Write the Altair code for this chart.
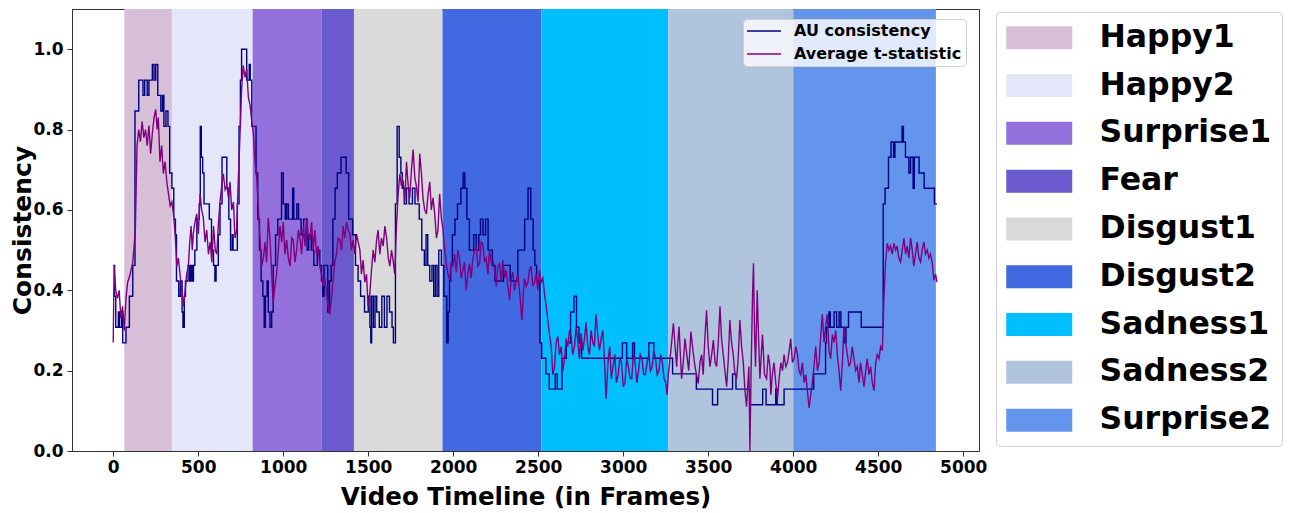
import altair as alt
import pandas as pd

# ---- emotion segments (frames) ----
emotions = ["Happy1", "Happy2", "Surprise1", "Fear", "Disgust1",
            "Disgust2", "Sadness1", "Sadness2", "Surprise2"]
seg_start = [65, 345, 820, 1227, 1416, 1937, 2518, 3265, 4000]
seg_end = [345, 820, 1227, 1416, 1937, 2518, 3265, 4000, 4839]
seg_colors = ["#D8BFD8", "#E6E6FA", "#9370DB", "#6A5ACD", "#D9D9D9",
              "#4169E1", "#00BFFF", "#B0C4DE", "#6495ED"]

# ---- AU consistency (frame, value), held until next change ----
au_points = [
    (0, 0.462), (8, 0.385), (15, 0.308), (30, 0.346), (38, 0.308), (50, 0.346), (56, 0.269),
    (75, 0.308), (95, 0.385), (115, 0.462), (128, 0.846), (150, 0.923), (175, 0.885),
    (185, 0.923), (200, 0.885), (210, 0.923), (230, 0.962), (240, 0.923), (250, 0.962),
    (262, 0.885), (280, 0.846), (290, 0.885), (298, 0.808), (310, 0.846), (322, 0.808),
    (332, 0.692), (345, 0.654), (356, 0.577), (366, 0.538), (372, 0.423), (385, 0.385),
    (395, 0.423), (405, 0.346), (410, 0.308), (418, 0.385), (425, 0.423), (440, 0.462),
    (450, 0.423), (458, 0.462), (466, 0.423), (472, 0.462), (480, 0.500), (492, 0.577),
    (506, 0.615), (512, 0.808), (518, 0.731), (526, 0.692), (534, 0.615), (565, 0.577),
    (578, 0.500), (590, 0.462), (598, 0.423), (605, 0.462), (618, 0.538), (628, 0.615),
    (640, 0.731), (668, 0.654), (680, 0.577), (690, 0.500), (700, 0.538), (705, 0.500),
    (730, 0.615), (740, 0.808), (748, 0.923), (755, 1.0), (785, 0.923), (800, 0.962),
    (806, 0.923), (815, 0.808), (840, 0.692), (850, 0.577), (860, 0.500), (870, 0.423),
    (880, 0.385), (888, 0.308), (895, 0.385), (905, 0.423), (912, 0.346), (922, 0.308),
    (932, 0.346), (941, 0.462), (955, 0.538), (968, 0.577), (990, 0.692), (1000, 0.615),
    (1012, 0.577), (1020, 0.615), (1030, 0.577), (1055, 0.654), (1062, 0.577), (1080, 0.615),
    (1090, 0.577), (1105, 0.538), (1120, 0.577), (1140, 0.500), (1150, 0.538), (1165, 0.500),
    (1180, 0.462), (1200, 0.500), (1215, 0.462), (1225, 0.423), (1232, 0.385), (1240, 0.462),
    (1262, 0.346), (1272, 0.423), (1282, 0.462), (1292, 0.577), (1305, 0.654), (1318, 0.692),
    (1340, 0.731), (1370, 0.692), (1385, 0.577), (1408, 0.538), (1425, 0.462), (1440, 0.423),
    (1455, 0.385), (1478, 0.346), (1500, 0.385), (1510, 0.308), (1515, 0.269), (1520, 0.385),
    (1530, 0.308), (1540, 0.385), (1550, 0.346), (1565, 0.308), (1580, 0.385), (1595, 0.308),
    (1610, 0.385), (1625, 0.346), (1640, 0.308), (1648, 0.269), (1660, 0.615), (1670, 0.808),
    (1682, 0.731), (1692, 0.692), (1700, 0.654), (1712, 0.615), (1725, 0.654), (1740, 0.615),
    (1760, 0.654), (1775, 0.615), (1800, 0.577), (1815, 0.500), (1830, 0.462), (1840, 0.538),
    (1850, 0.462), (1862, 0.423), (1875, 0.462), (1885, 0.385), (1895, 0.462), (1905, 0.385),
    (1915, 0.500), (1930, 0.462), (1945, 0.385), (1962, 0.269), (1970, 0.346), (1978, 0.423),
    (1985, 0.462), (1995, 0.538), (2010, 0.577), (2025, 0.615), (2045, 0.654), (2058, 0.692),
    (2068, 0.654), (2080, 0.577), (2095, 0.500), (2120, 0.538), (2135, 0.500), (2150, 0.538),
    (2160, 0.577), (2175, 0.538), (2190, 0.577), (2205, 0.500), (2230, 0.462), (2245, 0.423),
    (2295, 0.462), (2335, 0.423), (2380, 0.500), (2420, 0.577), (2440, 0.654), (2456, 0.577),
    (2470, 0.500), (2480, 0.462), (2490, 0.423), (2510, 0.269), (2520, 0.231), (2545, 0.192),
    (2565, 0.154), (2600, 0.192), (2612, 0.154), (2640, 0.231), (2665, 0.269), (2690, 0.346),
    (2710, 0.385), (2725, 0.308), (2740, 0.269), (2755, 0.231), (2995, 0.269), (3020, 0.231),
    (3055, 0.269), (3066, 0.231), (3150, 0.269), (3180, 0.231), (3290, 0.192), (3430, 0.154),
    (3525, 0.115), (3555, 0.154), (3643, 0.192), (3663, 0.154), (3745, 0.115), (3820, 0.154),
    (3840, 0.115), (3897, 0.154), (3905, 0.115), (3946, 0.154), (4120, 0.192), (4190, 0.269),
    (4195, 0.308), (4210, 0.346), (4218, 0.308), (4240, 0.346), (4255, 0.308), (4270, 0.346),
    (4280, 0.308), (4300, 0.269), (4310, 0.308), (4325, 0.346), (4400, 0.308), (4480, 0.308),
    (4529, 0.615), (4540, 0.654), (4560, 0.731), (4575, 0.769), (4590, 0.731), (4598, 0.769),
    (4620, 0.769), (4640, 0.808), (4648, 0.769), (4660, 0.731), (4680, 0.692), (4690, 0.731),
    (4705, 0.654), (4712, 0.731), (4740, 0.692), (4770, 0.654), (4830, 0.615), (4846, 0.615),
]

# ---- Average t-statistic (frame, value) ----
tstat_points = [
    (0, 0.27), (5, 0.46), (15, 0.40), (25, 0.38), (35, 0.40), (45, 0.33), (55, 0.36), (65, 0.30),
    (75, 0.38), (85, 0.42), (100, 0.44), (115, 0.47), (130, 0.55), (140, 0.76), (150, 0.80),
    (160, 0.77), (170, 0.82), (180, 0.78), (190, 0.80), (200, 0.76), (210, 0.81), (220, 0.74),
    (230, 0.79), (240, 0.83), (250, 0.85), (258, 0.80), (265, 0.83), (275, 0.72), (285, 0.76),
    (295, 0.69), (305, 0.72), (315, 0.67), (325, 0.64), (335, 0.61), (345, 0.62), (354, 0.59),
    (364, 0.54), (374, 0.46), (383, 0.48), (393, 0.44), (403, 0.40), (413, 0.36), (423, 0.40),
    (432, 0.44), (442, 0.46), (450, 0.52), (458, 0.56), (465, 0.50), (471, 0.54), (481, 0.57),
    (491, 0.59), (501, 0.54), (511, 0.64), (520, 0.60), (530, 0.58), (540, 0.52), (550, 0.55),
    (560, 0.49), (570, 0.52), (580, 0.47), (590, 0.56), (600, 0.50), (609, 0.49), (618, 0.56),
    (628, 0.62), (638, 0.66), (648, 0.69), (658, 0.65), (668, 0.66), (678, 0.63), (687, 0.67),
    (697, 0.60), (707, 0.62), (716, 0.53), (726, 0.55), (736, 0.68), (746, 0.79), (755, 0.90),
    (765, 0.96), (775, 0.93), (785, 0.95), (795, 0.88), (805, 0.86), (815, 0.82), (824, 0.79),
    (834, 0.72), (844, 0.68), (854, 0.60), (863, 0.53), (873, 0.46), (883, 0.48), (893, 0.52),
    (902, 0.47), (912, 0.58), (922, 0.53), (932, 0.44), (941, 0.37), (951, 0.41), (961, 0.44),
    (971, 0.50), (981, 0.56), (991, 0.52), (1000, 0.57), (1010, 0.49), (1020, 0.525), (1030, 0.48),
    (1040, 0.46), (1050, 0.53), (1059, 0.525), (1069, 0.47), (1079, 0.50), (1089, 0.55), (1098, 0.53),
    (1108, 0.49), (1118, 0.56), (1128, 0.51), (1137, 0.58), (1147, 0.54), (1157, 0.525), (1167, 0.57),
    (1176, 0.50), (1186, 0.55), (1196, 0.49), (1205, 0.51), (1215, 0.46), (1225, 0.44), (1235, 0.41),
    (1245, 0.43), (1254, 0.39), (1264, 0.36), (1274, 0.34), (1284, 0.38), (1294, 0.43), (1303, 0.47),
    (1313, 0.49), (1323, 0.53), (1333, 0.525), (1343, 0.50), (1352, 0.56), (1362, 0.53), (1372, 0.57),
    (1382, 0.55), (1392, 0.54), (1401, 0.50), (1411, 0.525), (1421, 0.49), (1431, 0.54), (1441, 0.52),
    (1451, 0.50), (1460, 0.44), (1470, 0.475), (1480, 0.42), (1490, 0.44), (1499, 0.36), (1509, 0.39),
    (1519, 0.45), (1529, 0.50), (1539, 0.47), (1549, 0.525), (1558, 0.55), (1568, 0.49), (1578, 0.53),
    (1588, 0.51), (1598, 0.56), (1608, 0.53), (1618, 0.48), (1627, 0.46), (1637, 0.50), (1646, 0.475),
    (1656, 0.44), (1666, 0.56), (1676, 0.64), (1686, 0.69), (1695, 0.66), (1705, 0.674), (1715, 0.62),
    (1725, 0.72), (1735, 0.66), (1744, 0.63), (1754, 0.70), (1764, 0.75), (1774, 0.68), (1783, 0.66),
    (1793, 0.62), (1803, 0.74), (1813, 0.69), (1822, 0.63), (1832, 0.60), (1842, 0.59), (1852, 0.64),
    (1862, 0.67), (1871, 0.60), (1881, 0.63), (1891, 0.59), (1901, 0.53), (1910, 0.55), (1920, 0.64),
    (1930, 0.58), (1940, 0.55), (1950, 0.50), (1959, 0.466), (1969, 0.44), (1979, 0.425), (1988, 0.47),
    (1998, 0.46), (2008, 0.49), (2018, 0.445), (2027, 0.50), (2037, 0.48), (2047, 0.43), (2057, 0.45),
    (2066, 0.47), (2076, 0.40), (2086, 0.44), (2096, 0.466), (2105, 0.43), (2115, 0.475), (2125, 0.50),
    (2135, 0.508), (2145, 0.46), (2155, 0.466), (2164, 0.52), (2174, 0.516), (2184, 0.47), (2194, 0.48),
    (2204, 0.44), (2213, 0.50), (2223, 0.47), (2233, 0.475), (2243, 0.45), (2253, 0.41), (2262, 0.46),
    (2272, 0.466), (2282, 0.42), (2292, 0.475), (2302, 0.43), (2311, 0.45), (2321, 0.41), (2331, 0.376),
    (2341, 0.43), (2351, 0.445), (2360, 0.40), (2370, 0.42), (2380, 0.44), (2390, 0.40), (2397, 0.36),
    (2404, 0.326), (2412, 0.39), (2419, 0.43), (2429, 0.41), (2439, 0.42), (2448, 0.45), (2458, 0.46),
    (2468, 0.41), (2478, 0.42), (2488, 0.44), (2498, 0.40), (2507, 0.45), (2517, 0.42), (2527, 0.43),
    (2537, 0.39), (2547, 0.36), (2556, 0.326), (2566, 0.29), (2576, 0.26), (2586, 0.19), (2596, 0.21),
    (2605, 0.27), (2615, 0.285), (2625, 0.24), (2635, 0.26), (2644, 0.20), (2654, 0.226), (2664, 0.28),
    (2674, 0.26), (2684, 0.30), (2693, 0.285), (2703, 0.24), (2713, 0.26), (2723, 0.31), (2733, 0.27),
    (2742, 0.23), (2752, 0.293), (2762, 0.25), (2772, 0.28), (2781, 0.32), (2791, 0.26), (2801, 0.24),
    (2811, 0.30), (2821, 0.27), (2830, 0.26), (2840, 0.34), (2850, 0.29), (2860, 0.25), (2870, 0.28),
    (2880, 0.30), (2890, 0.22), (2899, 0.13), (2910, 0.22), (2920, 0.26), (2930, 0.18), (2940, 0.21),
    (2950, 0.24), (2960, 0.17), (2970, 0.19), (2980, 0.23), (2990, 0.22), (3000, 0.16), (3010, 0.17),
    (3020, 0.23), (3030, 0.21), (3040, 0.18), (3050, 0.18), (3060, 0.24), (3070, 0.22), (3080, 0.17),
    (3090, 0.20), (3100, 0.24), (3110, 0.23), (3120, 0.19), (3130, 0.19), (3140, 0.22), (3150, 0.24),
    (3160, 0.20), (3170, 0.21), (3180, 0.25), (3190, 0.23), (3200, 0.19), (3210, 0.20), (3220, 0.24),
    (3230, 0.22), (3240, 0.18), (3250, 0.17), (3258, 0.14), (3265, 0.19), (3280, 0.25), (3295, 0.318),
    (3305, 0.26), (3314, 0.21), (3321, 0.27), (3328, 0.31), (3336, 0.24), (3343, 0.18), (3353, 0.22),
    (3363, 0.28), (3373, 0.243), (3385, 0.20), (3398, 0.297), (3410, 0.25), (3422, 0.21), (3431, 0.19),
    (3441, 0.168), (3451, 0.22), (3461, 0.24), (3470, 0.19), (3480, 0.28), (3490, 0.35), (3500, 0.26),
    (3510, 0.21), (3520, 0.24), (3530, 0.276), (3540, 0.22), (3549, 0.21), (3559, 0.27), (3569, 0.36),
    (3578, 0.28), (3588, 0.24), (3598, 0.20), (3608, 0.16), (3618, 0.23), (3627, 0.326), (3637, 0.27),
    (3647, 0.24), (3657, 0.19), (3667, 0.18), (3676, 0.23), (3686, 0.326), (3696, 0.26), (3706, 0.22),
    (3716, 0.15), (3725, 0.11), (3732, 0.16), (3739, 0.21), (3745, 0.0), (3752, 0.20), (3760, 0.38),
    (3766, 0.467), (3772, 0.30), (3778, 0.21), (3788, 0.40), (3796, 0.28), (3804, 0.18), (3812, 0.24),
    (3819, 0.29), (3831, 0.19), (3843, 0.18), (3853, 0.24), (3863, 0.21), (3868, 0.14), (3877, 0.19),
    (3887, 0.22), (3897, 0.17), (3907, 0.13), (3917, 0.18), (3927, 0.22), (3937, 0.20), (3946, 0.24),
    (3956, 0.21), (3966, 0.22), (3976, 0.25), (3985, 0.28), (3995, 0.22), (4005, 0.23), (4015, 0.26),
    (4025, 0.24), (4034, 0.20), (4044, 0.19), (4054, 0.22), (4064, 0.17), (4074, 0.19), (4083, 0.15),
    (4093, 0.107), (4103, 0.14), (4112, 0.17), (4122, 0.21), (4132, 0.26), (4142, 0.20), (4152, 0.22),
    (4162, 0.29), (4171, 0.34), (4181, 0.27), (4190, 0.31), (4200, 0.34), (4210, 0.25), (4220, 0.23),
    (4230, 0.29), (4240, 0.27), (4250, 0.30), (4259, 0.24), (4269, 0.20), (4279, 0.15), (4289, 0.22),
    (4298, 0.31), (4308, 0.27), (4318, 0.24), (4328, 0.21), (4337, 0.22), (4347, 0.26), (4357, 0.23),
    (4367, 0.20), (4377, 0.21), (4387, 0.17), (4396, 0.22), (4406, 0.19), (4416, 0.16), (4426, 0.20),
    (4435, 0.23), (4445, 0.19), (4455, 0.21), (4465, 0.17), (4475, 0.15), (4485, 0.22), (4494, 0.24),
    (4504, 0.23), (4514, 0.26), (4524, 0.25), (4533, 0.377), (4543, 0.47), (4553, 0.517), (4563, 0.50),
    (4572, 0.51), (4582, 0.49), (4592, 0.517), (4602, 0.50), (4611, 0.51), (4621, 0.48), (4631, 0.47),
    (4641, 0.50), (4651, 0.53), (4661, 0.49), (4670, 0.51), (4680, 0.48), (4690, 0.53), (4700, 0.50),
    (4709, 0.46), (4719, 0.49), (4729, 0.52), (4739, 0.48), (4749, 0.47), (4758, 0.50), (4768, 0.52),
    (4778, 0.49), (4788, 0.50), (4798, 0.48), (4807, 0.49), (4817, 0.47), (4827, 0.425), (4837, 0.44),
    (4845, 0.42),
]

x_ticks = [0, 500, 1000, 1500, 2000, 2500, 3000, 3500, 4000, 4500, 5000]
y_ticks = [0.0, 0.2, 0.4, 0.6, 0.8, 1.0]
series_names = ["AU consistency", "Average t-statistic"]
series_colors = ["#000080", "#800080"]

FONT = "DejaVu Sans"

seg_df = pd.DataFrame({"emotion": emotions, "start": seg_start, "end": seg_end})
au_df = pd.DataFrame(au_points, columns=["frame", "value"])
au_df["series"] = series_names[0]
ts_df = pd.DataFrame(tstat_points, columns=["frame", "value"])
ts_df["series"] = series_names[1]

x_scale = alt.Scale(domain=[-242.5, 5092.5], nice=False, zero=False)
y_scale = alt.Scale(domain=[0, 1.1], nice=False)
x_axis = alt.Axis(title="Video Timeline (in Frames)", values=x_ticks, format="d",
                  labelPadding=3, titleY=46, titleBaseline="middle", titleFontSize=24.5,
                  labelFlush=False, labelOverlap=False)
y_axis = alt.Axis(title="Consistency", values=y_ticks, format=".1f",
                  labelPadding=4, titleX=-50, titleBaseline="middle", titleFontSize=25)

fill_legend = alt.Legend(
    title=None, orient="none", legendX=924, legendY=3, direction="vertical",
    symbolType="M-1.348,-1L4.39,-1L4.39,1L-1.348,1Z", symbolSize=529,
    symbolStrokeWidth=0, symbolOpacity=1,
    labelFont=FONT, labelFontSize=31.5, labelFontWeight="bold", labelColor="black",
    labelOffset=62, labelLimit=400, rowPadding=14.8, padding=10,
    strokeColor="#d0d0d0", fillColor="white", cornerRadius=4,
)
stroke_legend = alt.Legend(
    title=None, orient="none", legendX=671, legendY=10, direction="vertical",
    symbolType="M-1.6,0L5.2,0", symbolSize=100, symbolStrokeWidth=1.5,
    labelFont=FONT, labelFontSize=16, labelFontWeight="bold", labelColor="black",
    labelOffset=31, labelLimit=400, rowPadding=7, padding=4,
    strokeColor="#d0d0d0", fillColor="rgba(255,255,255,0.8)", cornerRadius=4,
)

bands = alt.Chart(seg_df).mark_rect(strokeWidth=0).encode(
    x=alt.X("start:Q", scale=x_scale, axis=x_axis),
    x2="end:Q",
    y=alt.datum(0, scale=y_scale, axis=y_axis),
    y2=alt.datum(1.1),
    fill=alt.Fill("emotion:N", scale=alt.Scale(domain=emotions, range=seg_colors),
                  legend=fill_legend),
)

stroke_scale = alt.Scale(domain=series_names, range=series_colors)

au_line = alt.Chart(au_df).mark_line(interpolate="step-after", strokeWidth=1.4).encode(
    x=alt.X("frame:Q", scale=x_scale, axis=x_axis),
    y=alt.Y("value:Q", scale=y_scale, axis=y_axis),
    stroke=alt.Stroke("series:N", scale=stroke_scale, legend=stroke_legend),
)

ts_line = alt.Chart(ts_df).mark_line(strokeWidth=1.4).encode(
    x=alt.X("frame:Q", scale=x_scale, axis=x_axis),
    y=alt.Y("value:Q", scale=y_scale, axis=y_axis),
    stroke=alt.Stroke("series:N", scale=stroke_scale, legend=stroke_legend),
)

chart = alt.layer(bands, au_line, ts_line).properties(
    width=907, height=442,
    autosize=alt.AutoSizeParams(type="none"),
    padding={"left": 72, "top": 9, "right": 313, "bottom": 62},
).configure_axis(
    labelFont=FONT, labelFontSize=17, labelFontWeight="bold", labelColor="black",
    titleFont=FONT, titleFontWeight="bold", titleColor="black",
    grid=False, domainColor="#333333", tickColor="#333333", tickSize=5,
    domainWidth=1, tickWidth=1,
).configure_view(stroke="#333333", strokeWidth=1)

chart.save("out.html", embed_options={"renderer": "svg", "actions": False})
